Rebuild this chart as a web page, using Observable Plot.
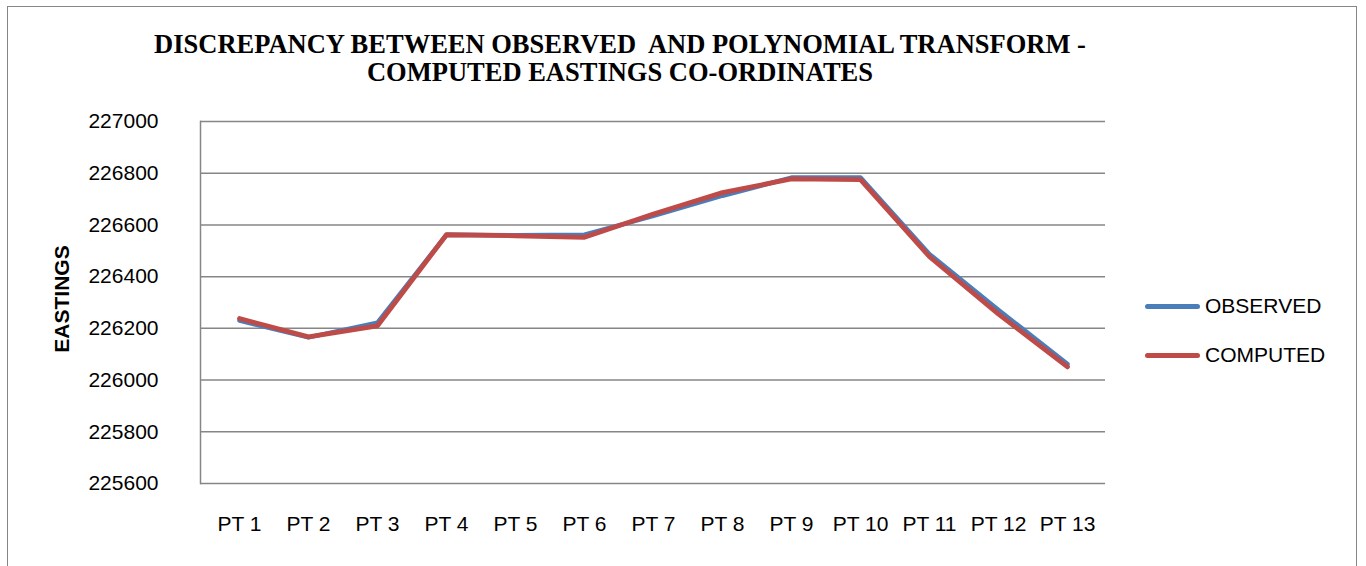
<!DOCTYPE html>
<html>
<head>
<meta charset="utf-8">
<script src="https://cdn.jsdelivr.net/npm/d3@7"></script>
<script src="https://cdn.jsdelivr.net/npm/@observablehq/plot@0.6"></script>
<style>
  html, body { margin: 0; padding: 0; background: #fff; }
  #wrap { position: relative; width: 1366px; height: 566px; overflow: hidden; font-family: "Liberation Sans", Arial, sans-serif; }
  #border { position: absolute; left: 7px; top: 6px; width: 1350px; height: 600px; border: 1.5px solid #868686; box-sizing: border-box; }
  #title { position: absolute; left: 0; top: 30px; width: 1240px; text-align: center; font-family: "Liberation Serif", "Times New Roman", serif; font-weight: bold; font-size: 26.5px; line-height: 28px; white-space: pre; color: #000; }
  #chart { position: absolute; left: 0; top: 0; }
  #ylabel { position: absolute; left: 62px; top: 299px; transform: translate(-50%, -50%) rotate(-90deg); font-weight: bold; font-size: 21px; color: #000; white-space: nowrap; }
  .leg { position: absolute; left: 1145px; display: flex; align-items: center; font-size: 21px; color: #000; }
  .sw { width: 55px; height: 5px; border-radius: 3px; margin-right: 5px; }
</style>
</head>
<body>
<div id="wrap">
  <div id="border"></div>
  <div id="chart"></div>
  <div id="title">DISCREPANCY BETWEEN OBSERVED  AND POLYNOMIAL TRANSFORM -
COMPUTED EASTINGS CO-ORDINATES</div>
  <div id="ylabel">EASTINGS</div>
  <div class="leg" style="top:294px"><div class="sw" style="background:#4A7EBB"></div>OBSERVED</div>
  <div class="leg" style="top:343px"><div class="sw" style="background:#BE4B48"></div>COMPUTED</div>
</div>
<script>
const categories = ["PT 1","PT 2","PT 3","PT 4","PT 5","PT 6","PT 7","PT 8","PT 9","PT 10","PT 11","PT 12","PT 13"];
const observed = [226230, 226165, 226222, 226562, 226560, 226562, 226635, 226713, 226783, 226783, 226487, 226271, 226062];
const computed = [226238, 226167, 226210, 226562, 226558, 226552, 226642, 226725, 226778, 226775, 226477, 226255, 226051];
const yTicks = [225600, 225800, 226000, 226200, 226400, 226600, 226800, 227000];
const seriesNames = ["OBSERVED", "COMPUTED"];
const seriesColors = ["#4A7EBB", "#BE4B48"];

const obsRows = categories.map((c, i) => ({cat: c, value: observed[i]}));
const compRows = categories.map((c, i) => ({cat: c, value: computed[i]}));

const chart = Plot.plot({
  width: 1366,
  height: 566,
  marginLeft: 200,
  marginRight: 261,
  marginTop: 121,
  marginBottom: 83,
  style: {fontFamily: '"Liberation Sans", Arial, sans-serif', fontSize: "21px", color: "#000", background: "transparent", overflow: "visible"},
  x: {type: "point", domain: categories, padding: 0.5, label: null},
  y: {domain: [225600, 227000], label: null},
  marks: [
    Plot.gridY(yTicks, {stroke: "#868686", strokeOpacity: 1, strokeWidth: 1.5}),
    Plot.frame({anchor: "left", stroke: "#868686", strokeWidth: 1.5}),
    Plot.axisY(yTicks, {tickSize: 0, tickPadding: 42, tickFormat: d => String(d), label: null, fontSize: 21}),
    Plot.axisX({tickSize: 0, tickPadding: 33, label: null, fontSize: 21}),
    Plot.line(obsRows, {x: "cat", y: "value", stroke: seriesColors[0], strokeWidth: 4.5, strokeLinejoin: "round", strokeLinecap: "round"}),
    Plot.line(compRows, {x: "cat", y: "value", stroke: seriesColors[1], strokeWidth: 4.8, strokeLinejoin: "round", strokeLinecap: "round"})
  ]
});
document.getElementById("chart").appendChild(chart);
</script>
</body>
</html>
